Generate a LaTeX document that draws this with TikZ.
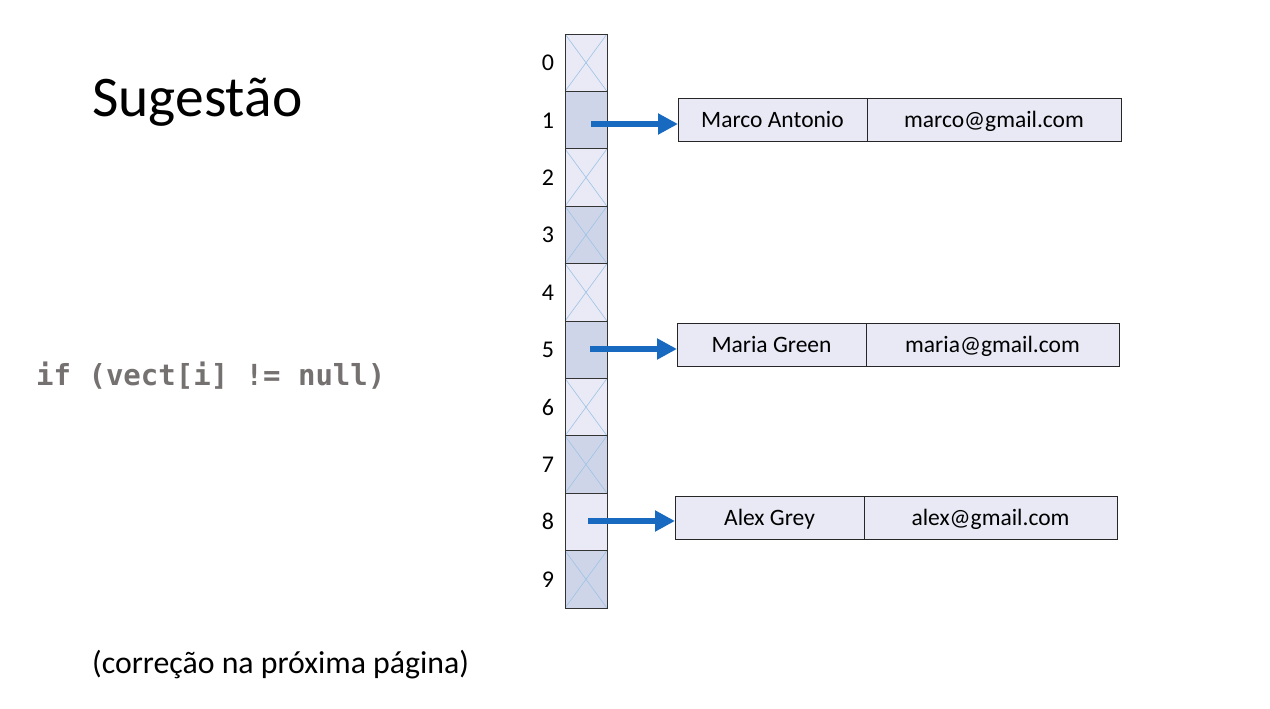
\documentclass[tikz,border=0pt]{standalone}
\usepackage{fontspec}
\setmainfont{Carlito}
\setmonofont{DejaVu Sans Mono}
\usetikzlibrary{arrows.meta}
\definecolor{cellL}{RGB}{233,234,245}
\definecolor{cellD}{RGB}{207,213,232}
\definecolor{xline}{RGB}{157,195,230}
\definecolor{arr}{RGB}{23,106,192}
\definecolor{codegray}{RGB}{118,113,113}
\definecolor{recfill}{RGB}{232,233,245}
\begin{document}
\begin{tikzpicture}[x=1pt,y=-1pt,
  cellbox/.style={draw=black!80,line width=0.9pt,minimum width=42pt,minimum height=57.4pt,inner sep=0pt,outer sep=0pt},
  lite/.style={cellbox,fill=cellL},
  dark/.style={cellbox,fill=cellD},
  idx/.style={font=\fontsize{24}{28}\selectfont,anchor=center,text height=16pt,text depth=0pt,inner sep=0pt},
  rec/.style={draw=black!85,line width=0.9pt,fill=recfill,minimum height=43pt,inner sep=0pt,outer sep=0pt,font=\fontsize{23.5}{27}\selectfont,anchor=north west,text height=17pt,text depth=1pt},
  ptr/.style={arr,line width=6pt,-{Triangle[length=20pt,width=20pt]}}
]
\path[use as bounding box,fill=white] (0,0) rectangle (1270,709);

% title
\node[anchor=west,font=\fontsize{57.5}{62}\selectfont,inner sep=0pt] (title) at (92,102) {Sugestão};
% code
\node[anchor=west,font=\ttfamily\bfseries\fontsize{29}{34}\selectfont,text=codegray,inner sep=0pt] (code) at (36,376) {if (vect[i] != null)};
% footer
\node[anchor=west,font=\fontsize{31.8}{36}\selectfont,inner sep=0pt] (foot) at (92,665) {(correção na próxima página)};

% array cells
\node[lite] (c0) at (586,62.7) {};
\node[dark] (c1) at (586,120.1) {};
\node[lite] (c2) at (586,177.5) {};
\node[dark] (c3) at (586,234.9) {};
\node[lite] (c4) at (586,292.3) {};
\node[dark] (c5) at (586,349.7) {};
\node[lite] (c6) at (586,407.1) {};
\node[dark] (c7) at (586,464.5) {};
\node[lite] (c8) at (586,521.9) {};
\node[dark] (c9) at (586,579.3) {};

% crosses on empty cells
\foreach \c in {c0,c2,c3,c4,c6,c7,c9}{
  \draw[xline,line width=0.6pt] (\c.north west) -- (\c.south east);
  \draw[xline,line width=0.6pt] (\c.north east) -- (\c.south west);
}
% redraw borders over crosses
\foreach \c in {c0,c1,c2,c3,c4,c5,c6,c7,c8,c9}{
  \draw[black!80,line width=0.9pt] (\c.north west) rectangle (\c.south east);
}

% indices
\foreach \i in {0,...,9}{
  \node[idx] (n\i) at ([xshift=-38pt]c\i.center) {\i};
}

% records
\node[rec,minimum width=189pt] (r1a) at (678,98) {Marco Antonio};
\node[rec,minimum width=254pt] (r1b) at (867,98) {marco@gmail.com};
\node[rec,minimum width=189pt] (r2a) at (677,323) {Maria Green};
\node[rec,minimum width=253pt] (r2b) at (866,323) {maria@gmail.com};
\node[rec,minimum width=189pt] (r3a) at (675,496) {Alex Grey};
\node[rec,minimum width=253pt] (r3b) at (864,496) {alex@gmail.com};

% pointers
\coordinate (p1) at (591,124);
\coordinate (p5) at (590,349);
\coordinate (p8) at (588,521);
\draw[ptr] (p1) -- (p1 -| r1a.west);
\draw[ptr] (p5) -- (p5 -| r2a.west);
\draw[ptr] (p8) -- (p8 -| r3a.west);
\end{tikzpicture}
\end{document}
